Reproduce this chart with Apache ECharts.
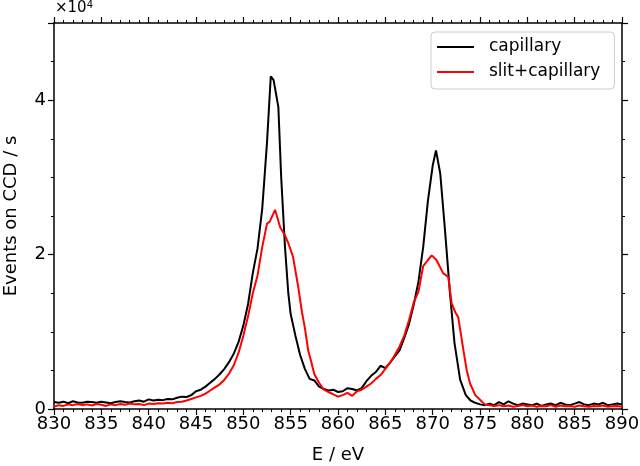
<!DOCTYPE html>
<html><head><meta charset="utf-8">
<script src="https://cdn.jsdelivr.net/npm/echarts@6/dist/echarts.min.js"></script>
<style>html,body{margin:0;padding:0;background:#fff}#c{width:640px;height:466px}</style>
</head><body><div id="c"></div>
<script>
const seriesNames = ['capillary', 'slit+capillary'];
const xTicks = [830, 835, 840, 845, 850, 855, 860, 865, 870, 875, 880, 885, 890];
const yTickLabels = ['0', '2', '4'];

const capE = [830,830.5,831,831.5,832,832.5,833,833.5,834,834.5,835,835.5,836,836.5,837,837.5,838,838.5,839,839.5,
840,840.5,841,841.5,842,842.5,843,843.5,844,844.5,845,845.5,846,846.5,847,847.5,848,848.5,849,849.5,
850,850.5,851,851.5,852,852.5,852.9,853.2,853.7,854,854.4,854.75,855,855.5,856,856.5,857,857.5,858,858.5,
859,859.5,860,860.5,861,861.5,862,862.5,863,863.5,864,864.5,865,865.5,866,866.5,867,867.5,868,868.5,
869,869.5,870,870.35,870.8,871.3,871.8,872.3,872.9,873.5,874,874.5,875,875.5,876,876.5,877,877.5,878,878.5,
879,879.5,880,880.5,881,881.5,882,882.5,883,883.5,884,884.5,885,885.5,886,886.5,887,887.5,888,888.5,889,889.5,890];
const capV = [900,800,950,750,1000,850,800,950,900,800,950,850,750,900,1000,900,850,1000,1100,950,
1250,1100,1200,1150,1300,1250,1450,1600,1550,1800,2300,2500,2900,3400,3900,4500,5200,6100,7200,8700,
10800,13600,17600,20800,26000,34500,43100,42600,39100,30000,21000,15000,12300,9500,7000,5200,3900,3700,2900,2600,
2400,2500,2200,2300,2700,2600,2400,2700,3600,4300,4800,5600,5300,6000,6800,7600,9200,11000,13500,16500,
21000,27000,31500,33500,30500,23200,15400,8600,3800,1800,1100,800,600,500,700,500,900,600,1000,700,
500,700,600,500,700,400,600,700,500,800,600,500,700,900,600,500,700,600,800,500,600,700,600];

const slitE = [830,830.5,831,831.5,832,832.5,833,833.5,834,834.5,835,835.5,836,836.5,837,837.5,838,838.5,839,839.5,
840,840.5,841,841.5,842,842.5,843,843.5,844,844.5,845,845.5,846,846.5,847,847.5,848,848.5,849,849.5,
850,850.5,851,851.5,852,852.5,852.8,853.35,853.9,854.4,854.75,855.25,855.8,856.2,856.5,856.85,857.2,857.5,858,858.5,
859,859.5,860,860.5,861,861.5,862,862.5,863,863.5,864,864.5,865,865.5,866,866.5,867,867.5,868,868.5,
869,869.5,869.9,870.4,871.1,871.65,872,872.4,872.7,873.25,873.6,873.95,874.5,875,875.5,876,876.5,877,877.5,878,
878.5,879,879.5,880,880.5,881,881.5,882,882.5,883,883.5,884,884.5,885,885.5,886,886.5,887,887.5,888,888.5,889,889.5,890];
const slitV = [300,500,400,600,500,650,500,600,450,650,550,400,600,500,650,550,700,600,650,500,
700,650,750,700,800,750,900,950,1100,1300,1500,1700,2000,2400,2800,3200,3800,4600,5700,7300,
9500,12000,15000,17300,21000,24000,24300,25800,23500,22500,21500,19700,15800,12500,10500,7600,6000,4500,3400,2500,
2200,1900,1600,1800,2100,1700,2300,2500,2900,3300,3900,4400,5200,6000,7000,8100,9500,11500,13800,15200,
18500,19300,19900,19300,17600,17100,13700,12500,11900,7600,5000,3300,1800,1200,600,500,400,500,350,450,
300,400,500,350,450,300,400,350,500,300,450,350,400,300,450,350,300,400,350,450,300,350,400,300];

const pairs = (xs, ys) => xs.map((x, i) => [x, ys[i]]);
const FONT = 'DejaVu Sans';
const GRID = {left: 54, right: 18, top: 23, bottom: 57, containLabel: false, outerBoundsMode: 'none'};

function xAx(pos, labels) {
  return {
    type: 'value', position: pos, min: 830, max: 890, interval: 5,
    axisLine: {show: true, onZero: false, lineStyle: {color: '#000', width: 1.5}},
    axisTick: {show: true, inside: false, length: 6, lineStyle: {color: '#000', width: 1.2}},
    minorTick: {show: true, splitNumber: 5, length: 3, lineStyle: {color: '#000', width: 1}},
    axisLabel: {show: labels, color: '#000', fontFamily: FONT, fontSize: 18, margin: 6,
      formatter: v => xTicks.includes(v) ? String(v) : ''},
    splitLine: {show: false}, minorSplitLine: {show: false},
    name: labels ? 'E / eV' : '', nameLocation: 'middle', nameGap: 37,
    nameTextStyle: {color: '#000', fontFamily: FONT, fontSize: 18}
  };
}
function yAx(pos, major, labels) {
  return {
    type: 'value', position: pos, min: 0, max: 50000, interval: major ? 20000 : 5000,
    axisLine: {show: major, onZero: false, lineStyle: {color: '#000', width: 1.5}},
    axisTick: {show: true, inside: false, length: major ? 6 : 3, lineStyle: {color: '#000', width: major ? 1.2 : 1}},
    axisLabel: {show: labels, color: '#000', fontFamily: FONT, fontSize: 18, margin: 8,
      formatter: v => (v % 20000 === 0 && v <= 40000) ? yTickLabels[v / 20000] : ''},
    splitLine: {show: false},
    name: labels ? 'Events on CCD / s' : '', nameLocation: 'middle', nameGap: 34,
    nameTextStyle: {color: '#000', fontFamily: FONT, fontSize: 18}
  };
}

const chart = echarts.init(document.getElementById('c'), null, {renderer: 'canvas'});
chart.setOption({
  animation: false,
  backgroundColor: '#fff',
  grid: GRID,
  xAxis: [xAx('bottom', true), xAx('top', false)],
  yAxis: [yAx('left', true, true), yAx('left', false, false), yAx('right', true, false), yAx('right', false, false)],
  legend: {
    data: seriesNames, orient: 'vertical', left: 431, top: 32,
    icon: 'rect', itemWidth: 37, itemHeight: 2, itemGap: 5,
    padding: [5, 14, 7, 6], borderColor: '#ccc', borderWidth: 1, borderRadius: 4,
    backgroundColor: '#fff',
    textStyle: {color: '#000', fontFamily: FONT, fontSize: 17, lineHeight: 20, padding: [0, 0, 0, 10]}
  },
  graphic: [{
    type: 'text', left: 55, top: 0,
    style: {text: '×10{s|4}', fill: '#000', font: '15px "DejaVu Sans"',
      rich: {s: {fontSize: 10, verticalAlign: 'top', padding: [0, 0, 6, 0], fontFamily: FONT}}}
  }],
  series: [
    {name: seriesNames[0], type: 'line', data: pairs(capE, capV), showSymbol: false, symbol: 'none',
     lineStyle: {color: '#000', width: 2}, itemStyle: {color: '#000'}, z: 3},
    {name: seriesNames[1], type: 'line', data: pairs(slitE, slitV), showSymbol: false, symbol: 'none',
     lineStyle: {color: '#f00', width: 2}, itemStyle: {color: '#f00'}, z: 4}
  ]
});
</script></body></html>
